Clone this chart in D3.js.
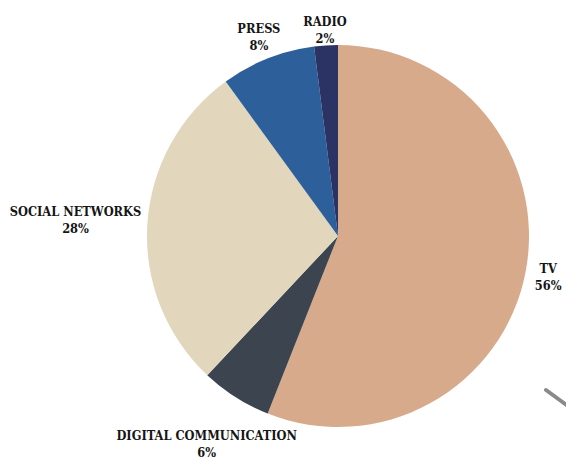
<!DOCTYPE html>
<html>
<head>
<meta charset="utf-8">
<script src="https://cdn.jsdelivr.net/npm/d3@7"></script>
<style>
  html, body { margin: 0; padding: 0; background: #ffffff; }
  svg { display: block; }
  .lbl { font-family: "DejaVu Serif", serif; font-stretch: condensed; font-weight: bold; font-size: 12.7px; fill: #151515; }
</style>
</head>
<body>
<svg id="chart" width="566" height="459"></svg>
<script>
// Share of media channels
const categories = ["TV", "DIGITAL COMMUNICATION", "SOCIAL NETWORKS", "PRESS", "RADIO"];
const shares = [56, 6, 28, 8, 2];
const colors = ["#d6aa8b", "#3c454f", "#e2d7bd", "#2d609b", "#2b3264"];

// Layout
const width = 566, height = 459;
const cx = 338, cy = 236, radius = 191;
// Distance of each label centre from the pie centre
const labelRadius = [214, 245, 263, 215, 207];

const svg = d3.select("#chart");
const g = svg.append("g").attr("transform", `translate(${cx},${cy})`);

const data = categories.map((c, i) => ({ name: c, value: shares[i], color: colors[i], lr: labelRadius[i] }));

const pie = d3.pie().value(d => d.value).sort(null);
const arc = d3.arc().innerRadius(0).outerRadius(radius);
const arcs = pie(data);

g.selectAll("path.slice")
  .data(arcs)
  .join("path")
  .attr("class", "slice")
  .attr("d", arc)
  .attr("fill", d => d.data.color);

// Labels: category name over percentage
const lbl = g.selectAll("text.lbl")
  .data(arcs)
  .join("text")
  .attr("class", "lbl")
  .attr("text-anchor", "middle")
  .attr("transform", d => {
    const a = (d.startAngle + d.endAngle) / 2;
    return `translate(${Math.sin(a) * d.data.lr},${-Math.cos(a) * d.data.lr})`;
  });
lbl.append("tspan").attr("x", 0).attr("y", -3).text(d => d.data.name);
lbl.append("tspan").attr("x", 0).attr("y", 14).text(d => d.data.value + "%");

// Decorative grey stroke at the lower-right edge
svg.append("line")
  .attr("x1", 546).attr("y1", 390)
  .attr("x2", 572).attr("y2", 409)
  .attr("stroke", "#8a8a8a")
  .attr("stroke-width", 4)
  .attr("stroke-linecap", "round");
</script>
</body>
</html>
